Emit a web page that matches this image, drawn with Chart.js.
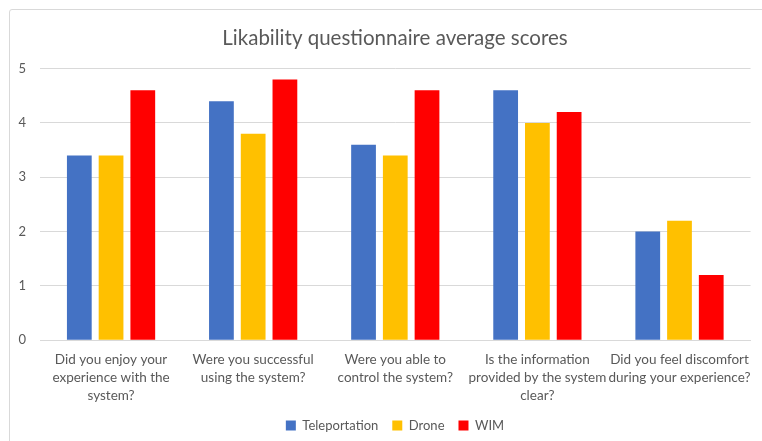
<!DOCTYPE html>
<html>
<head>
<meta charset="utf-8">
<script src="https://cdn.jsdelivr.net/npm/chart.js@4"></script>
<style>
html,body{margin:0;padding:0;background:#fff;}
#wrap{position:relative;width:762px;height:441px;overflow:hidden;}
#frame{position:absolute;left:9px;top:9px;width:770px;height:450px;border:1px solid #d9d9d9;border-radius:3px;box-sizing:border-box;}
#c{position:absolute;left:0;top:0;}
</style>
</head>
<body>
<div id="wrap">
<div id="frame"></div>
<canvas id="c" width="762" height="441"></canvas>
</div>
<script>
const categories = [
  ["Did you enjoy your","experience with the","system?"],
  ["Were you successful","using the system?"],
  ["Were you able to","control the system?"],
  ["Is the information","provided by the system","clear?"],
  ["Did you feel discomfort","during your experience?"]
];
const teleportation = [3.4, 4.4, 3.6, 4.6, 2.0];
const drone = [3.4, 3.8, 3.4, 4.0, 2.2];
const wim = [4.6, 4.8, 4.6, 4.2, 1.2];
const seriesNames = ["Teleportation","Drone","WIM"];
const titleText = "Likability questionnaire average scores";

const FONT = "Lato, 'Open Sans', 'Liberation Sans', sans-serif";
const TXT = "#595959";

const widenYLabels = {
  id: 'widenYLabels',
  afterLayout(chart) { chart.scales.y.left = 0; }
};

new Chart(document.getElementById('c'), {
  type: 'bar',
  data: {
    labels: categories,
    datasets: [
      {label: seriesNames[0], data: teleportation, backgroundColor: '#4472C4'},
      {label: seriesNames[1], data: drone, backgroundColor: '#FFC000'},
      {label: seriesNames[2], data: wim, backgroundColor: '#FF0000'}
    ]
  },
  plugins: [widenYLabels],
  options: {
    responsive: false,
    animation: false,
    devicePixelRatio: 1,
    layout: {padding: {left: 33, right: 5, top: 26, bottom: -1}},
    datasets: {bar: {categoryPercentage: 0.67, barPercentage: 0.78}},
    plugins: {
      title: {display: true, text: titleText, color: TXT,
        font: {family: FONT, size: 20.5, weight: 'normal'}, padding: {top: 0, bottom: 18}},
      legend: {position: 'bottom', labels: {boxWidth: 10, boxHeight: 10, color: TXT,
        font: {family: FONT, size: 13}, padding: 14}},
      tooltip: {enabled: false}
    },
    scales: {
      x: {
        afterFit: function(scale){ scale.height -= 11; },
        grid: {display: false, drawTicks: false},
        border: {display: true, color: '#d9d9d9'},
        ticks: {color: TXT, font: {family: FONT, size: 13.5, lineHeight: 1.33}, maxRotation: 0, autoSkip: false, padding: 11}
      },
      y: {
        min: 0, max: 5,
        afterFit: function(scale){ scale.width = 7; },
        grid: {color: '#d9d9d9', drawTicks: false},
        border: {display: false},
        ticks: {stepSize: 1, color: TXT, font: {family: FONT, size: 13}, padding: 14}
      }
    }
  }
});
</script>
</body>
</html>
